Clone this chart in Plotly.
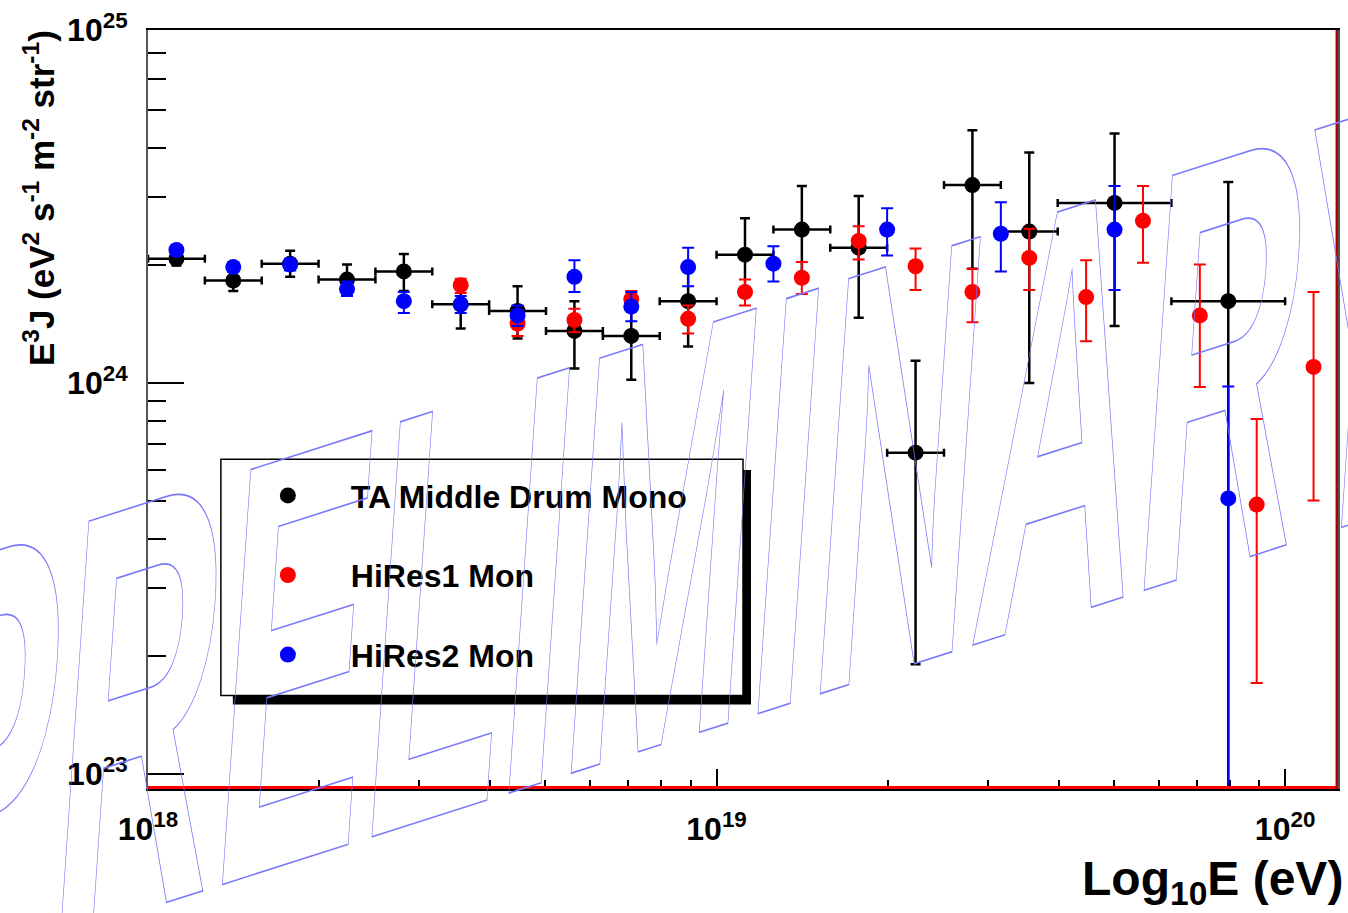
import numpy as np
import plotly.graph_objects as go

# ---- TA Middle Drum monocular: E^3 J vs energy (bin centres in log10 E/eV)
tamd_logE = [18.05, 18.15, 18.25, 18.35, 18.45, 18.55, 18.65, 18.75, 18.85, 18.95,
             19.05, 19.15, 19.25, 19.35, 19.45, 19.55, 19.70, 19.90]
tamd_halfbin = [0.05, 0.05, 0.05, 0.05, 0.05, 0.05, 0.05, 0.05, 0.05, 0.05,
                0.05, 0.05, 0.05, 0.05, 0.05, 0.05, 0.10, 0.10]
tamd_flux = [2.08e24, 1.83e24, 2.02e24, 1.84e24, 1.93e24, 1.59e24, 1.53e24, 1.36e24, 1.32e24, 1.62e24,
             2.13e24, 2.47e24, 2.22e24, 6.64e23, 3.21e24, 2.44e24, 2.89e24, 1.62e24]
tamd_hi = [2.15e24, 1.93e24, 2.18e24, 2.01e24, 2.14e24, 1.81e24, 1.77e24, 1.62e24, 1.58e24, 2.00e24,
           2.64e24, 3.19e24, 3.01e24, 1.14e24, 4.43e24, 3.89e24, 4.35e24, 3.27e24]
tamd_lo = [2.00e24, 1.72e24, 1.87e24, 1.69e24, 1.72e24, 1.38e24, 1.30e24, 1.09e24, 1.02e24, 1.24e24,
           1.69e24, 1.85e24, 1.47e24, 1.91e23, 1.96e24, 1.00e24, 1.40e24, 8.0e22]

# ---- HiRes-1 monocular
hr1_logE = [18.55, 18.65, 18.75, 18.85, 18.95, 19.05, 19.15, 19.25,
            19.35, 19.45, 19.55, 19.65, 19.75, 19.85, 19.95, 20.05]
hr1_flux = [1.78e24, 1.42e24, 1.45e24, 1.64e24, 1.46e24, 1.71e24, 1.86e24, 2.31e24,
            1.99e24, 1.71e24, 2.09e24, 1.66e24, 2.60e24, 1.49e24, 4.89e23, 1.10e24]
hr1_hi = [1.85e24, 1.52e24, 1.55e24, 1.72e24, 1.58e24, 1.84e24, 2.04e24, 2.52e24,
          2.21e24, 1.96e24, 2.48e24, 2.06e24, 3.19e24, 2.01e24, 8.10e23, 1.71e24]
hr1_lo = [1.70e24, 1.32e24, 1.35e24, 1.55e24, 1.34e24, 1.58e24, 1.69e24, 2.07e24,
          1.73e24, 1.43e24, 1.73e24, 1.28e24, 2.03e24, 9.77e23, 1.71e23, 5.01e23]

# ---- HiRes-2 monocular
hr2_logE = [18.05, 18.15, 18.25, 18.35, 18.45, 18.55, 18.65, 18.75, 18.85, 18.95,
            19.10, 19.30, 19.50, 19.70, 19.90]
hr2_flux = [2.19e24, 1.98e24, 2.01e24, 1.74e24, 1.62e24, 1.59e24, 1.49e24, 1.87e24, 1.57e24, 1.98e24,
            2.02e24, 2.47e24, 2.41e24, 2.47e24, 5.07e23]
hr2_hi = [2.24e24, 2.04e24, 2.08e24, 1.82e24, 1.71e24, 1.67e24, 1.58e24, 2.06e24, 1.71e24, 2.22e24,
          2.24e24, 2.80e24, 2.90e24, 3.19e24, 9.8e23]
hr2_lo = [2.14e24, 1.93e24, 1.94e24, 1.67e24, 1.51e24, 1.51e24, 1.40e24, 1.71e24, 1.44e24, 1.77e24,
          1.82e24, 2.12e24, 1.93e24, 1.73e24, 5.0e22]

# ---- axis ticks
x_major = [1e18, 1e19, 1e20]
x_major_text = ["10<sup>18</sup>", "10<sup>19</sup>", "10<sup>20</sup>"]
y_major = [1e23, 1e24, 8e24]
y_major_text = ["10<sup>23</sup>", "10<sup>24</sup>", "10<sup>25</sup>"]

series_names = ["TA Middle Drum Mono", "HiRes1 Mon", "HiRes2 Mon"]
series_colors = ["black", "red", "blue"]

FONT = "Liberation Sans, Arial, Helvetica, sans-serif"
W, H = 1348, 913
ML, MR, MT, MB = 148, 8, 25, 124
PW, PH = W - ML - MR, H - MT - MB


def px_x(p):
    return (p - ML) / PW


def px_y(p):
    return (H - MB - p) / PH


def err_arrays(y, hi, lo):
    y, hi, lo = map(np.asarray, (y, hi, lo))
    return (hi - y).tolist(), (y - lo).tolist()


fig = go.Figure()

# TA Middle Drum (with energy-bin widths)
e = np.asarray(tamd_logE)
hb = np.asarray(tamd_halfbin)
ex = 10 ** e
up, dn = err_arrays(tamd_flux, tamd_hi, tamd_lo)
fig.add_trace(go.Scatter(
    x=ex, y=tamd_flux, mode="markers", name=series_names[0], legendgroup="a",
    marker=dict(color=series_colors[0], size=16),
    error_y=dict(type="data", symmetric=False, array=up, arrayminus=dn,
                 color="black", thickness=2.5, width=5),
    error_x=dict(type="data", symmetric=False,
                 array=(10 ** (e + hb) - ex).tolist(),
                 arrayminus=(ex - 10 ** (e - hb)).tolist(),
                 color="black", thickness=2.5, width=4),
))

up, dn = err_arrays(hr1_flux, hr1_hi, hr1_lo)
fig.add_trace(go.Scatter(
    x=10 ** np.asarray(hr1_logE), y=hr1_flux, mode="markers", name=series_names[1], legendgroup="b",
    marker=dict(color=series_colors[1], size=16),
    error_y=dict(type="data", symmetric=False, array=up, arrayminus=dn,
                 color="red", thickness=2, width=6),
))

up, dn = err_arrays(hr2_flux, hr2_hi, hr2_lo)
fig.add_trace(go.Scatter(
    x=10 ** np.asarray(hr2_logE), y=hr2_flux, mode="markers", name=series_names[2], legendgroup="c",
    marker=dict(color=series_colors[2], size=16),
    error_y=dict(type="data", symmetric=False, array=up, arrayminus=dn,
                 color="blue", thickness=2, width=6),
))

x_minor = [m * 10.0 ** d for d in (18, 19) for m in range(2, 10)]
y_minor = [m * 1e23 for m in range(2, 10)] + [m * 1e24 for m in range(2, 8)]

fig.update_xaxes(
    type="log", range=[18, 20.093],
    tickmode="array", tickvals=x_major, ticktext=x_major_text,
    ticks="inside", ticklen=20, tickwidth=1.5, tickcolor="black",
    minor=dict(tickmode="array", tickvals=x_minor, ticks="inside", ticklen=9,
               tickwidth=1.5, tickcolor="black", showgrid=False),
    showgrid=False, zeroline=False,
    showline=True, linecolor="black", linewidth=1.5, mirror=True,
    tickfont=dict(family=FONT, size=32, color="black", weight="bold"),
    ticklabelstandoff=11,
)
fig.update_yaxes(
    type="log", range=[22.962, 24.903],
    tickmode="array", tickvals=y_major, ticktext=y_major_text,
    ticks="inside", ticklen=36, tickwidth=1.5, tickcolor="black",
    minor=dict(tickmode="array", tickvals=y_minor, ticks="inside", ticklen=18,
               tickwidth=1.5, tickcolor="black", showgrid=False),
    showgrid=False, zeroline=False,
    showline=True, linecolor="#555555", linewidth=2, mirror=True,
    tickfont=dict(family=FONT, size=32, color="black", weight="bold"),
    ticklabelstandoff=12,
)

shapes = [
    # red frame edges along the bottom and right of the pad
    dict(type="line", xref="paper", yref="paper", x0=0, x1=1, y0=0.002, y1=0.002,
         line=dict(color="red", width=3), layer="above"),
    dict(type="line", xref="paper", yref="paper", x0=0.999, x1=0.999, y0=0, y1=1,
         line=dict(color="#b00000", width=2.5), layer="above"),
    # legend box with drop shadow
    dict(type="rect", xref="paper", yref="paper",
         x0=px_x(233), x1=px_x(752), y0=px_y(704), y1=px_y(468),
         fillcolor="black", line=dict(width=0), layer="above"),
    dict(type="rect", xref="paper", yref="paper",
         x0=px_x(221), x1=px_x(744), y0=px_y(695), y1=px_y(457),
         fillcolor="white", line=dict(color="black", width=1.5), layer="above"),
]

annotations = [
    dict(text="E<sup>3</sup>J (eV<sup>2</sup> s<sup>-1</sup> m<sup>-2</sup> str<sup>-1</sup>)",
         xref="paper", yref="paper", x=px_x(39), y=px_y(194), textangle=-90,
         xanchor="center", yanchor="middle", showarrow=False,
         font=dict(family=FONT, size=35, color="black", weight="bold")),
    dict(text="Log<sub>10</sub>E (eV)",
         xref="paper", yref="paper", x=px_x(1347), y=px_y(915),
         xanchor="right", yanchor="bottom", showarrow=False,
         font=dict(family=FONT, size=48, color="black", weight="bold")),
    # watermark, outlined by the script below
    dict(text="PRELIMINARY", xref="paper", yref="paper", x=px_x(679), y=px_y(533),
         xanchor="center", yanchor="middle", showarrow=False,
         font=dict(family=FONT, size=590, color="rgba(128,128,255,0.25)", weight="bold")),
]

fig.update_layout(
    width=W, height=H,
    margin=dict(l=ML, r=MR, t=MT, b=MB, pad=0),
    paper_bgcolor="white", plot_bgcolor="white",
    showlegend=True,
    legend=dict(x=px_x(225), y=px_y(466), xanchor="left", yanchor="top",
                bgcolor="rgba(0,0,0,0)", borderwidth=0,
                font=dict(family=FONT, size=32, color="black", weight="bold"),
                itemwidth=116, tracegroupgap=35, traceorder="grouped"),
    shapes=shapes, annotations=annotations,
)

outline_js = """
var gd = document.getElementById('{plot_id}');
gd.querySelectorAll('text.annotation-text').forEach(function(t) {
  if (t.textContent.indexOf('PRELIMINARY') < 0) return;
  t.style.fill = 'none';
  t.style.stroke = 'rgb(120,120,250)';
  t.style.strokeWidth = '1.3px';
  t.setAttribute('vector-effect', 'non-scaling-stroke');
  var b = t.getBBox();
  var cx = b.x + b.width / 2, cy = b.y + b.height / 2;
  t.setAttribute('transform', 'translate(' + cx + ',' + cy + ') skewY(-17.7) skewX(-4) scale(0.38,1) translate(' + (-cx) + ',' + (-cy) + ')');
});
"""

fig.write_html("out.html", post_script=outline_js, config={"displayModeBar": False})
